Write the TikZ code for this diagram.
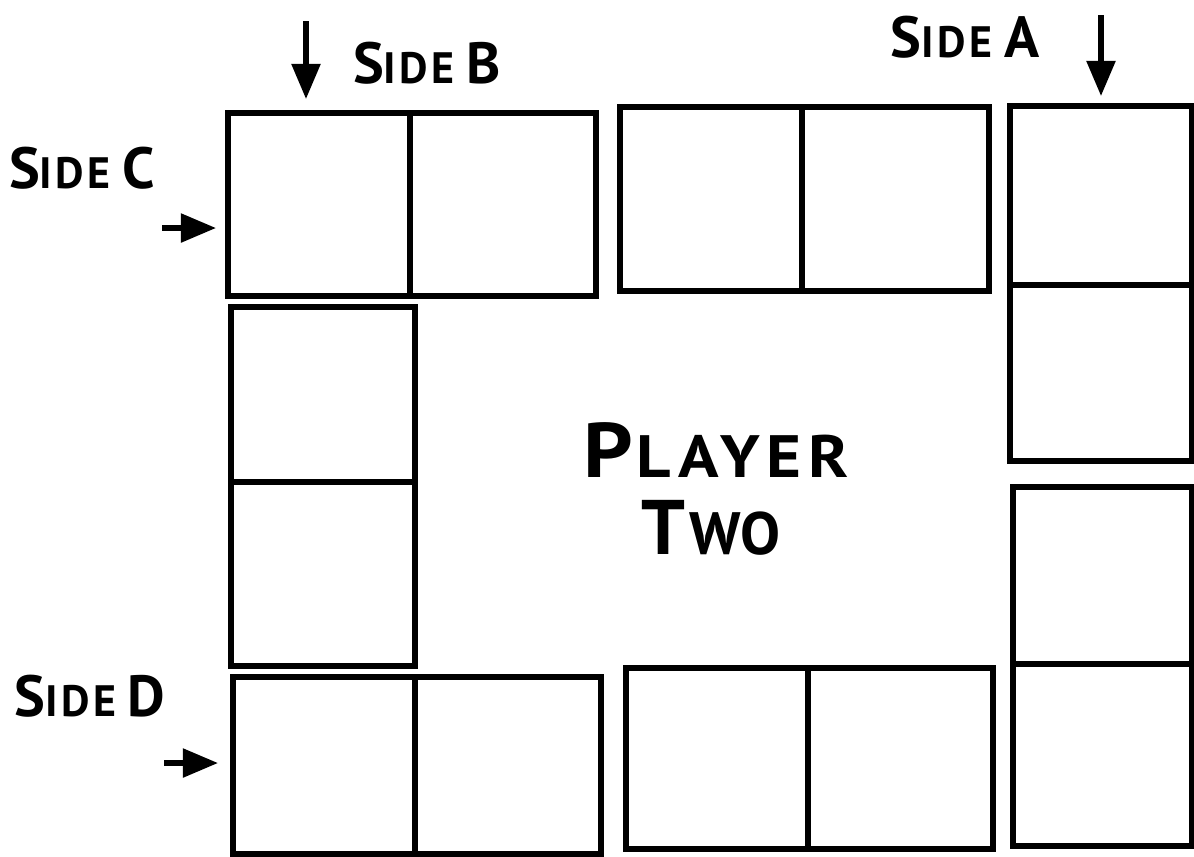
\documentclass[tikz,border=0pt]{standalone}
\usepackage{fontspec}
\setmainfont{PT Sans}
\usetikzlibrary{arrows.meta}
\newcommand{\hand}[2]{{\fontsize{16.5}{16}\selectfont #1}{\fontsize{12.5}{12}\selectfont #2}}
\newcommand{\handbig}[2]{{\fontsize{22}{22}\selectfont #1\kern1pt}{\fontsize{17}{17}\selectfont #2}}
\tikzset{
  tile/.style={line width=1.9pt},
  pointer/.style={-{Triangle[length=10pt,width=8pt]}, line width=1.5pt},
  sidetext/.style={font=\bfseries\addfontfeature{LetterSpace=8}, inner sep=0pt},
  bigtext/.style={font=\bfseries\addfontfeature{LetterSpace=#1}, inner sep=0pt}
}

\begin{document}
\begin{tikzpicture}[x=0.01cm, y=-0.01cm]
  \useasboundingbox (0,0) rectangle (1194,856);
  % top row
  \draw[tile] (228,113) rectangle (596,296) (410,113) -- (410,296);
  \draw[tile] (620,107) rectangle (989,291) (802,107) -- (802,291);
  % right column
  \draw[tile] (1010,106) rectangle (1192,461) (1010,285) -- (1192,285);
  \draw[tile] (1013,487) rectangle (1192,846) (1013,664) -- (1192,664);
  % left column
  \draw[tile] (231,307) rectangle (415,666) (231,482) -- (415,482);
  % bottom row
  \draw[tile] (233,677) rectangle (601,854) (415,677) -- (415,854);
  \draw[tile] (626,668) rectangle (993,849) (808,668) -- (808,849);
  % labels
  \node[sidetext] (sideA) at (965,37) {\hand{S}{IDE} \hand{A}{}};
  \node[sidetext] (sideB) at (427,63) {\hand{S}{IDE} \hand{B}{}};
  \node[sidetext] (sideC) at (82,168) {\hand{S}{IDE} \hand{C}{}};
  \node[sidetext] (sideD) at (90,696) {\hand{S}{IDE} \hand{D}{}};
  \node[bigtext=10] (player) at (716,450) {\scalebox{1.12}[1]{\handbig{P}{LAYER}}};
  \node[bigtext=2] (two) at (711,528) {\handbig{T}{WO}};
  % arrows
  \coordinate (aTop) at (1101,15);
  \coordinate (aEnd) at (1101,96);
  \coordinate (bTop) at (306,21);
  \coordinate (bEnd) at (306,99);
  \coordinate (cTail) at (162,228);
  \coordinate (cEnd) at (216,228);
  \coordinate (dTail) at (164,763);
  \coordinate (dEnd) at (218,763);
  \draw[pointer] (aTop) -- (aEnd);
  \draw[pointer] (bTop) -- (bEnd);
  \draw[pointer] (cTail) -- (cEnd);
  \draw[pointer] (dTail) -- (dEnd);
\end{tikzpicture}
\end{document}
